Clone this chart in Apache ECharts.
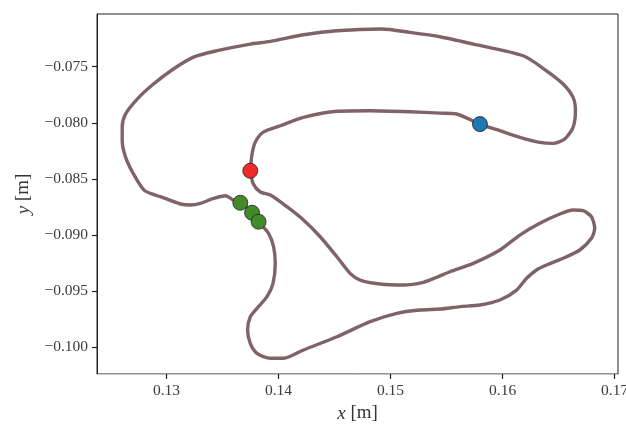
<!DOCTYPE html>
<html>
<head>
<meta charset="utf-8">
<script src="https://cdn.jsdelivr.net/npm/echarts@6/dist/echarts.min.js"></script>
<style>html,body{margin:0;padding:0;background:#fff}#c{width:626px;height:426px}</style>
</head>
<body>
<div id="c"></div>
<script>
// Trajectory (x [m], y [m]), closed path
const pathX = [0.13748,0.13764,0.13793,0.13864,0.14016,0.14223,0.14521,0.14818,0.15174,0.15441,0.15590,0.15798,0.15976,0.16154,0.16332,0.16451,0.16555,0.16629,0.16650,0.16629,0.16540,0.16392,0.16184,0.15738,0.15441,0.15174,0.14922,0.14521,0.14223,0.13927,0.13748,0.13452,0.13241,0.13062,0.12884,0.12739,0.12635,0.12605,0.12605,0.12635,0.12706,0.12804,0.12947,0.13125,0.13214,0.13303,0.13421,0.13526,0.13597,0.13659,0.13764,0.13822,0.13911,0.13956,0.13971,0.13951,0.13897,0.13808,0.13748,0.13724,0.13748,0.13808,0.13927,0.14045,0.14223,0.14521,0.14818,0.15056,0.15263,0.15441,0.15620,0.15798,0.15976,0.16125,0.16214,0.16303,0.16392,0.16540,0.16689,0.16793,0.16822,0.16793,0.16718,0.16629,0.16511,0.16332,0.16154,0.15976,0.15738,0.15530,0.15412,0.15293,0.15114,0.14907,0.14729,0.14639,0.14521,0.14372,0.14223,0.14075,0.13927,0.13838,0.13775,0.13748];
const pathY = [-0.08427,-0.08278,-0.08171,-0.08082,-0.08026,-0.07951,-0.07897,-0.07892,-0.07901,-0.07913,-0.07921,-0.08011,-0.08070,-0.08129,-0.08174,-0.08183,-0.08144,-0.08040,-0.07892,-0.07773,-0.07654,-0.07536,-0.07402,-0.07298,-0.07233,-0.07194,-0.07164,-0.07179,-0.07215,-0.07274,-0.07298,-0.07357,-0.07414,-0.07520,-0.07654,-0.07788,-0.07921,-0.08037,-0.08159,-0.08305,-0.08456,-0.08603,-0.08658,-0.08723,-0.08732,-0.08717,-0.08673,-0.08649,-0.08688,-0.08712,-0.08801,-0.08881,-0.08984,-0.09104,-0.09252,-0.09430,-0.09549,-0.09653,-0.09728,-0.09846,-0.09965,-0.10054,-0.10098,-0.10098,-0.10024,-0.09906,-0.09772,-0.09697,-0.09668,-0.09659,-0.09638,-0.09623,-0.09579,-0.09490,-0.09385,-0.09311,-0.09267,-0.09207,-0.09133,-0.09029,-0.08940,-0.08837,-0.08783,-0.08777,-0.08812,-0.08895,-0.09000,-0.09133,-0.09252,-0.09327,-0.09376,-0.09421,-0.09445,-0.09436,-0.09401,-0.09341,-0.09193,-0.09015,-0.08866,-0.08747,-0.08643,-0.08616,-0.08545,-0.08427];
// Highlighted points
const redPoint = [0.13748, -0.08427];
const bluePoint = [0.15798, -0.08011];
const greenX = [0.13659, 0.13764, 0.13822];
const greenY = [-0.08712, -0.08801, -0.08881];
// Tick labels
const xTicks = [0.13, 0.14, 0.15, 0.16, 0.17];
const yTicks = [-0.100, -0.095, -0.090, -0.085, -0.080, -0.075];

const FONT = '"Liberation Serif", "DejaVu Serif", serif';
const chart = echarts.init(document.getElementById('c'), null, {renderer: 'canvas'});
const fmtX = v => v.toFixed(2);
const fmtY = v => v.toFixed(3).replace('-', '\u2212');

const pathData = pathX.map((x, i) => [x, pathY[i]]);
const greenData = greenX.map((x, i) => [x, greenY[i]]);

chart.setOption({
  animation: false,
  backgroundColor: '#fff',
  grid: {left: 97, top: 14, right: 8, bottom: 52, outerBoundsMode: 'none', containLabel: false,
         show: true, borderColor: '#222', borderWidth: 1, backgroundColor: 'transparent'},
  xAxis: {
    type: 'value', min: 0.1238, max: 0.1703,
    splitLine: {show: false},
    axisLine: {show: true, onZero: false, lineStyle: {color: '#c8c8c8', width: 1}},
    axisTick: {show: true, length: 5, customValues: xTicks, lineStyle: {color: '#222', width: 1.2}},
    axisLabel: {customValues: xTicks, formatter: fmtX, margin: 9, fontFamily: FONT, fontSize: 15.5, color: '#3a3a3a'},
    name: '{i|x} [m]', nameLocation: 'middle', nameGap: 30,
    nameTextStyle: {fontFamily: FONT, fontSize: 19, color: '#333', rich: {i: {fontStyle: 'italic', fontFamily: FONT, fontSize: 19, color: '#333'}}}
  },
  yAxis: {
    type: 'value', min: -0.10238, max: -0.0703,
    splitLine: {show: false},
    axisLine: {show: true, onZero: false, lineStyle: {color: '#222', width: 1}},
    axisTick: {show: true, length: 5, customValues: yTicks, lineStyle: {color: '#222', width: 1.2}},
    axisLabel: {customValues: yTicks, formatter: fmtY, margin: 9, fontFamily: FONT, fontSize: 15.5, color: '#3a3a3a'},
    name: '{i|y} [m]', nameLocation: 'middle', nameGap: 64,
    nameTextStyle: {fontFamily: FONT, fontSize: 19, color: '#333', rich: {i: {fontStyle: 'italic', fontFamily: FONT, fontSize: 19, color: '#333'}}}
  },
  series: [
    {type: 'line', data: pathData, showSymbol: false, smooth: 0.25, z: 2,
     lineStyle: {color: '#7f6368', width: 3.4}},
    {type: 'scatter', data: [redPoint], symbolSize: 15, z: 3,
     itemStyle: {color: '#ee2a2a', borderColor: '#222', borderWidth: 0.8, opacity: 1}},
    {type: 'scatter', data: [bluePoint], symbolSize: 15, z: 3,
     itemStyle: {color: '#1f77b4', borderColor: '#222', borderWidth: 0.8, opacity: 1}},
    {type: 'scatter', data: greenData, symbolSize: 15, z: 3,
     itemStyle: {color: '#438a2b', borderColor: '#222', borderWidth: 0.8, opacity: 1}}
  ]
});
</script>
</body>
</html>
